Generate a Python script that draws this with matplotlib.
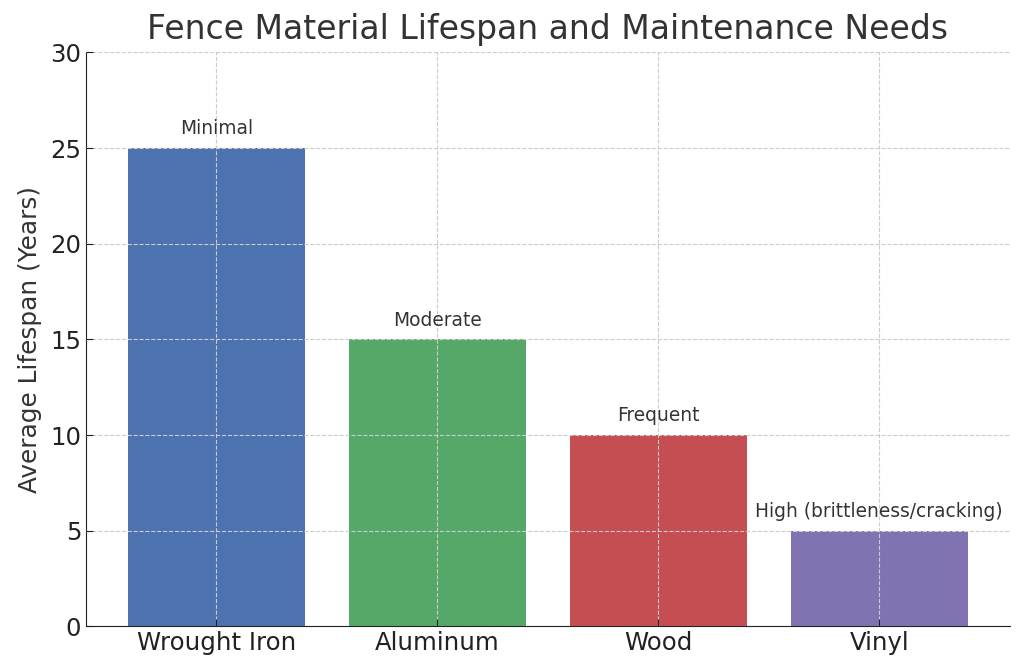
import matplotlib.pyplot as plt

# Data
materials = ['Wrought Iron', 'Aluminum', 'Wood', 'Vinyl']
lifespan = [25, 15, 10, 5]
maintenance = ['Minimal', 'Moderate', 'Frequent', 'High (brittleness/cracking)']
colors = ['#4C72B0', '#55A868', '#C44E52', '#8172B2']

plt.rcParams['font.family'] = 'DejaVu Sans'
plt.rcParams['text.color'] = '#333333'
plt.rcParams['axes.labelcolor'] = '#333333'

fig, ax = plt.subplots(figsize=(10.24, 6.72), dpi=100)
bars = ax.bar(materials, lifespan, color=colors, width=0.8)

for bar, note in zip(bars, maintenance):
    ax.text(bar.get_x() + bar.get_width() / 2, bar.get_height() + 0.5, note,
            ha='center', va='bottom', fontsize=13.4, color='#333333')

ax.set_ylim(0, 30)
ax.set_title('Fence Material Lifespan and Maintenance Needs', fontsize=23.8,
             color='#333333', pad=9.5)
ax.set_ylabel('Average Lifespan (Years)', fontsize=17.8, labelpad=6)
ax.tick_params(axis='both', labelsize=17.6, direction='in', colors='#222222', length=5)
ax.grid(True, linestyle='--', color='#cccccc', linewidth=0.8)
ax.set_axisbelow(False)
ax.spines['top'].set_visible(False)
ax.spines['right'].set_visible(False)
ax.spines['left'].set_color('#222222')
ax.spines['bottom'].set_color('#222222')

plt.subplots_adjust(left=0.084, right=0.986, top=0.922, bottom=0.068)
plt.savefig('out.png')
